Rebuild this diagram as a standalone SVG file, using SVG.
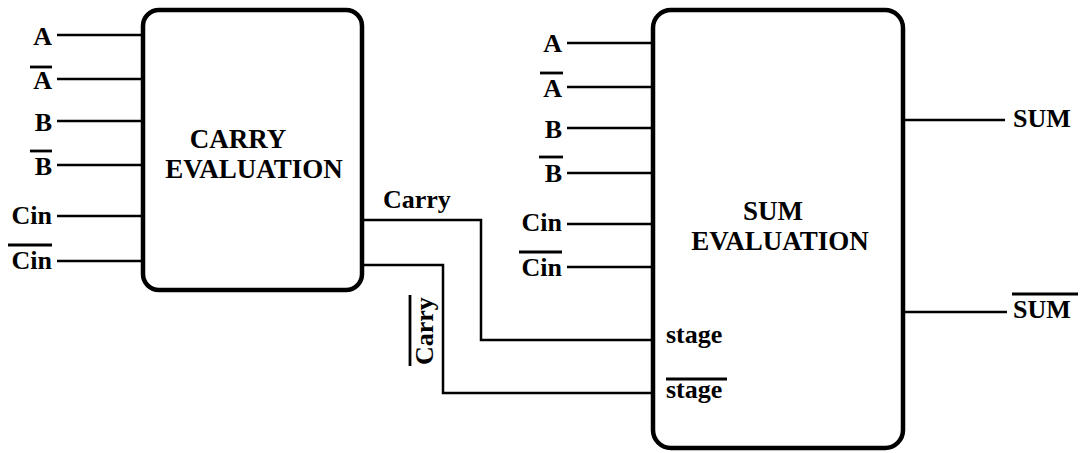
<svg xmlns="http://www.w3.org/2000/svg" width="1083" height="453" viewBox="0 0 1083 453" font-family="Liberation Serif, serif" font-weight="bold" font-size="26">
<style>
.box{fill:#fff;stroke:#000;stroke-width:4.5}
.w{fill:none;stroke:#000;stroke-width:2.5}
.bar{stroke:#000;stroke-width:2.8}
.t{font-size:27px}
.e{text-anchor:end}
.m{text-anchor:middle}
</style>
<rect width="1083" height="453" fill="#fff"/>
<g id="connectors">
<path class="w" d="M57 35H143M57 79H143M57 121H143M57 165H143M57 216H143M57 261H143"/>
<path class="w" d="M567 43H653M567 87H653M567 128H653M567 173H653M567 224H653M567 267H653"/>
<path class="w" d="M903 120H1005M903 312H1007"/>
<path class="w" d="M362 220H481V340H653"/>
<path class="w" d="M362 265H443V393H653"/>
</g>
<g id="carry-eval">
<rect class="box" x="143" y="10" width="219" height="280" rx="16"/>
<text class="t m" x="238" y="148">CARRY</text>
<text class="t m" x="254" y="178">EVALUATION</text>
</g>
<g id="sum-eval">
<rect class="box" x="653" y="10" width="250" height="438" rx="18"/>
<text class="t m" x="773" y="220">SUM</text>
<text class="t m" x="780" y="250">EVALUATION</text>
<text x="666" y="343">stage</text>
<text x="666" y="398">stage</text>
<line class="bar" x1="666" y1="379" x2="727" y2="379"/>
</g>
<g id="carry-inputs">
<text class="e" x="52" y="45">A</text>
<text class="e" x="52" y="89">A</text>
<line class="bar" x1="30" y1="67" x2="52" y2="67"/>
<text class="e" x="52" y="131">B</text>
<text class="e" x="52" y="175">B</text>
<line class="bar" x1="30" y1="151" x2="52" y2="151"/>
<text class="e" x="52" y="224">Cin</text>
<text class="e" x="52" y="269">Cin</text>
<line class="bar" x1="8" y1="245" x2="52" y2="245"/>
</g>
<g id="sum-inputs">
<text class="e" x="562" y="52">A</text>
<text class="e" x="562" y="97">A</text>
<line class="bar" x1="540" y1="73" x2="563" y2="73"/>
<text class="e" x="562" y="138">B</text>
<text class="e" x="562" y="182">B</text>
<line class="bar" x1="539" y1="157" x2="563" y2="157"/>
<text class="e" x="562" y="231">Cin</text>
<text class="e" x="562" y="276">Cin</text>
<line class="bar" x1="519" y1="252" x2="562" y2="252"/>
</g>
<g id="carry-labels">
<text x="383" y="208">Carry</text>
<text transform="translate(433 365) rotate(-90)">Carry</text>
<line class="bar" x1="410" y1="295" x2="410" y2="366"/>
</g>
<g id="sum-outputs">
<text x="1013" y="127">SUM</text>
<text x="1013" y="318">SUM</text>
<line class="bar" x1="1012" y1="294" x2="1078" y2="294"/>
</g>
</svg>
